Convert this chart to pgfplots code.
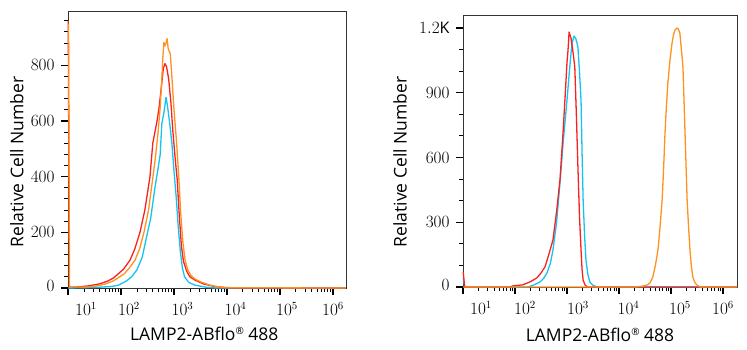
\documentclass[border=0pt]{standalone}
\usepackage{pgfplots}
\pgfplotsset{compat=1.18}
\usepackage{pgfplotstable}
\usepackage{fontspec}
\setmainfont{Open Sans}
\definecolor{cRed}{RGB}{250,32,32}
\definecolor{cOrange}{RGB}{255,145,30}
\definecolor{cCyan}{RGB}{20,195,240}
\newcommand{\reg}{{\fontsize{10bp}{10bp}\selectfont\raisebox{6bp}{®}}}

% ---- left panel ----
\pgfplotstableread{
e c
1.005 960
1.025 5
1.2 4
1.4 8
1.6 15
1.75 25
1.85 35
1.943 50
2.05 68
2.17 100
2.26 140
2.358 200
2.45 280
2.547 400
2.60 520
2.64 560
2.68 600
2.72 650
2.76 720
2.80 790
2.83 806
2.86 795
2.90 750
2.94 670
2.98 560
3.02 470
3.06 390
3.10 260
3.14 150
3.18 95
3.24 60
3.30 40
3.40 28
3.55 15
3.75 6
3.95 2
4.2 0
6.24 0
}\LRed
\pgfplotstableread{
e c
1.01 950
1.03 5
1.3 3
1.5 6
1.7 14
1.85 25
2.057 50
2.15 70
2.264 100
2.35 140
2.434 200
2.52 280
2.604 400
2.65 470
2.70 560
2.74 650
2.77 750
2.79 830
2.81 882
2.83 870
2.85 880
2.87 896
2.89 860
2.91 850
2.93 842
2.96 760
3.00 640
3.05 520
3.09 400
3.13 260
3.17 160
3.21 100
3.26 65
3.32 45
3.40 32
3.5 22
3.65 12
3.8 5
4.0 1
6.24 0
}\LOrange
\pgfplotstableread{
e c
1.0 0
1.5 2
1.8 5
1.95 10
2.10 25
2.20 40
2.30 65
2.40 110
2.49 190
2.56 250
2.64 360
2.70 430
2.74 480
2.77 590
2.81 630
2.85 685
2.88 650
2.92 590
2.96 520
3.00 420
3.04 330
3.08 220
3.12 130
3.16 70
3.20 40
3.28 20
3.40 10
3.6 3
3.8 0
6.24 0
}\LCyan
% ---- right panel ----
\pgfplotstableread{
e c
1.005 70
1.03 3
1.06 0
1.9 0
1.96 5
2.15 10
2.30 25
2.42 42
2.50 65
2.577 93
2.65 150
2.73 218
2.80 350
2.865 496
2.92 700
2.96 866
3.00 1040
3.02 1098
3.04 1181
3.08 1150
3.12 1080
3.15 1019
3.18 800
3.21 556
3.24 330
3.27 171
3.29 80
3.31 32
3.35 8
3.40 0
6.27 0
}\RRed
\pgfplotstableread{
e c
1.005 40
1.03 3
1.06 0
2.25 0
2.35 8
2.48 23
2.55 40
2.615 65
2.68 110
2.73 171
2.80 300
2.865 482
2.93 680
3.00 866
3.05 1010
3.096 1130
3.135 1163
3.17 1150
3.21 1112
3.24 1000
3.27 866
3.29 620
3.31 403
3.34 230
3.365 125
3.40 60
3.44 23
3.50 8
3.58 0
6.27 0
}\RCyan
\pgfplotstableread{
e c
1.0 0
4.31 0
4.45 4
4.54 9
4.60 20
4.65 46
4.70 100
4.75 171
4.79 280
4.83 403
4.86 560
4.885 713
4.91 830
4.94 945
4.98 1050
5.02 1130
5.05 1170
5.08 1191
5.115 1200
5.14 1195
5.17 1177
5.20 1100
5.23 1019
5.25 870
5.27 713
5.29 560
5.31 403
5.34 270
5.365 171
5.39 100
5.42 46
5.46 20
5.50 9
5.56 0
6.27 0
}\ROrange

\begin{document}
\begin{tikzpicture}
\path[use as bounding box] (0,0) rectangle (747bp,350bp);
\begin{axis}[
  scale only axis,
  xmode=log,
  xmin=10, ymin=0,
  clip=false,
  at={(68bp,62bp)}, anchor=south west,
  width=278bp, height=277bp,
  xmax=1.76e6, ymax=995,
  axis line style={draw=black!80, line width=0.9pt},
  tick align=outside,
  xtick pos=bottom, ytick pos=left,
  major tick length=7bp, minor tick length=4bp,
  major tick style={black, line width=1.2pt},
  minor tick style={black, line width=0.9pt},
  tick label style={font=\fontsize{16bp}{18bp}\selectfont},
  xticklabel style={yshift=-4bp},
  yticklabel style={xshift=-3bp},
  xtick={10,100,1000,10000,100000,1000000},
  minor xtick={20,30,40,50,60,70,80,90,200,300,400,500,600,700,800,900,2000,3000,4000,5000,6000,7000,8000,9000,20000,30000,40000,50000,60000,70000,80000,90000,200000,300000,400000,500000,600000,700000,800000,900000},
  xticklabels={{\hspace*{36bp}$10^{1}$},{\hspace*{16bp}$10^{2}$},{\hspace*{17bp}$10^{3}$},{\hspace*{17bp}$10^{4}$},{\hspace*{14bp}$10^{5}$},{$10^{6}$}},
  label style={font=\fontsize{17.5bp}{20bp}\selectfont},
  xlabel={LAMP2-ABflo\reg{} 488},
  ylabel={Relative Cell Number},
  ytick={0,200,400,600,800},
  minor ytick={40,80,120,160,240,280,320,360,440,480,520,560,640,680,720,760,840,880,920,960},
  yticklabels={{\raisebox{4bp}{$0$}},{$200$},{$400$},{$600$},{$800$}},
  xlabel style={at={(axis description cs:0.49,-0.191)}, anchor=base},
  ylabel style={at={(axis description cs:-0.1845,0.455)}, anchor=center},
]
\addplot[line width=1.3pt, line join=round, cCyan] table[x expr={10^\thisrow{e}}, y=c] {\LCyan};
\addplot[line width=1.3pt, line join=round, cRed] table[x expr={10^\thisrow{e}}, y=c] {\LRed};
\addplot[line width=1.3pt, line join=round, cOrange] table[x expr={10^\thisrow{e}}, y=c] {\LOrange};
\end{axis}
\begin{axis}[
  scale only axis,
  xmode=log,
  xmin=10, ymin=0,
  clip=false,
  at={(463bp,63bp)}, anchor=south west,
  width=274bp, height=272bp,
  xmax=1.86e6, ymax=1260,
  axis line style={draw=black!80, line width=0.9pt},
  tick align=outside,
  xtick pos=bottom, ytick pos=left,
  major tick length=7bp, minor tick length=4bp,
  major tick style={black, line width=1.2pt},
  minor tick style={black, line width=0.9pt},
  tick label style={font=\fontsize{16bp}{18bp}\selectfont},
  xticklabel style={yshift=-4bp},
  yticklabel style={xshift=-3bp},
  xtick={10,100,1000,10000,100000,1000000},
  minor xtick={20,30,40,50,60,70,80,90,200,300,400,500,600,700,800,900,2000,3000,4000,5000,6000,7000,8000,9000,20000,30000,40000,50000,60000,70000,80000,90000,200000,300000,400000,500000,600000,700000,800000,900000},
  xticklabels={{\hspace*{36bp}$10^{1}$},{\hspace*{20bp}$10^{2}$},{\hspace*{22bp}$10^{3}$},{\hspace*{19bp}$10^{4}$},{\hspace*{18bp}$10^{5}$},{$10^{6}$}},
  label style={font=\fontsize{17.5bp}{20bp}\selectfont},
  xlabel={LAMP2-ABflo\reg{} 488},
  ylabel={Relative Cell Number},
  ytick={0,300,600,900,1200},
  minor ytick={100,200,400,500,700,800,1000,1100},
  yticklabels={{\raisebox{4bp}{$0$}},{$300$},{$600$},{$900$},{$1.2\mathrm{K}$}},
  xlabel style={at={(axis description cs:0.5,-0.199)}, anchor=base},
  ylabel style={at={(axis description cs:-0.230,0.46)}, anchor=center},
]
\addplot[line width=1.3pt, line join=round, cCyan] table[x expr={10^\thisrow{e}}, y=c] {\RCyan};
\addplot[line width=1.3pt, line join=round, cRed] table[x expr={10^\thisrow{e}}, y=c] {\RRed};
\addplot[line width=1.3pt, line join=round, cOrange] table[x expr={10^\thisrow{e}}, y=c] {\ROrange};
\end{axis}
\end{tikzpicture}
\end{document}
